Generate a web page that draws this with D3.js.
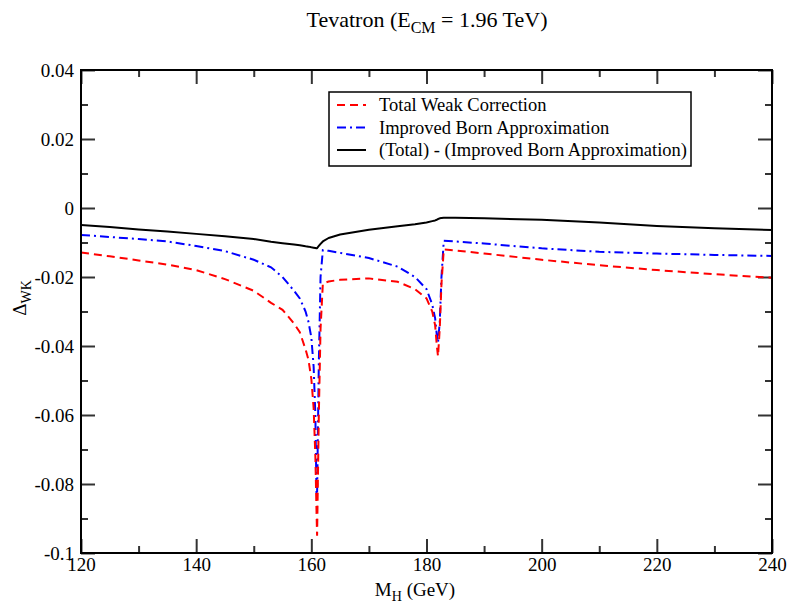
<!DOCTYPE html>
<html>
<head>
<meta charset="utf-8">
<script src="https://cdn.jsdelivr.net/npm/d3@7"></script>
<style>
  body { margin: 0; background: #fff; }
  svg text { font-family: "Liberation Serif", "Times New Roman", serif !important; fill: #000; }
</style>
</head>
<body>
<script>
// Data
var massH = [120, 125, 130, 135, 140, 145, 150, 153, 155, 157, 158, 159, 159.5, 160, 160.4, 160.7, 160.9, 161.0,
  161.3, 161.6, 162, 163, 165, 170, 175, 178, 180, 181, 181.5, 181.8, 182.0, 182.3, 182.6, 183, 185, 190, 200,
  210, 220, 230, 240];
var totalWeak = [-0.0129, -0.0140, -0.0152, -0.0164, -0.0180, -0.0206, -0.0240, -0.0275, -0.0295, -0.0335, -0.0360,
  -0.0410, -0.0440, -0.0495, -0.0580, -0.0720, -0.0880, -0.0950, -0.0600, -0.0350, -0.0219, -0.0213, -0.0208,
  -0.0204, -0.0214, -0.0235, -0.0262, -0.0300, -0.0340, -0.0400, -0.0430, -0.0350, -0.0220, -0.0120, -0.0123,
  -0.0132, -0.0150, -0.0166, -0.0180, -0.0192, -0.0202];
var improvedBorn = [-0.0078, -0.0084, -0.0090, -0.0097, -0.0110, -0.0125, -0.0150, -0.0172, -0.0200, -0.0240, -0.0262,
  -0.0300, -0.0330, -0.0375, -0.0460, -0.0600, -0.0830, -0.0830, -0.0450, -0.0200, -0.0122, -0.0124, -0.0130,
  -0.0145, -0.0170, -0.0200, -0.0235, -0.0280, -0.0320, -0.0370, -0.0390, -0.0330, -0.0200, -0.0095, -0.0097,
  -0.0103, -0.0117, -0.0127, -0.0132, -0.0136, -0.0139];
var difference = [-0.0049, -0.0055, -0.0062, -0.0068, -0.0075, -0.0082, -0.0090, -0.0098, -0.0102, -0.0106, -0.0108,
  -0.0111, -0.0112, -0.0114, -0.0115, -0.0116, -0.0117, -0.0116, -0.0110, -0.0104, -0.0097, -0.0087, -0.0077,
  -0.0063, -0.0053, -0.0047, -0.0042, -0.0038, -0.0036, -0.0034, -0.0032, -0.0030, -0.0029, -0.0028, -0.0028,
  -0.0030, -0.0034, -0.0042, -0.0052, -0.0059, -0.0064];

var seriesNames = ['Total Weak Correction', 'Improved Born Approximation', '(Total) - (Improved Born Approximation)'];
var xTicks = [120, 140, 160, 180, 200, 220, 240];
var xMinorTicks = [130, 150, 170, 190, 210, 230];
var yTicks = [0.04, 0.02, 0, -0.02, -0.04, -0.06, -0.08, -0.1];
var yTickLabels = ['0.04', '0.02', '0', '-0.02', '-0.04', '-0.06', '-0.08', '-0.1'];
var yMinorTicks = [0.03, 0.01, -0.01, -0.03, -0.05, -0.07, -0.09];

// Layout
var WIDTH = 790;
var HEIGHT = 608;
var LEFT = 81, RIGHT = 772, TOP = 70, BOTTOM = 553;
var MAJOR = 14, MINOR = 7;
var SERIF = '"Liberation Serif", "Times New Roman", serif';

var x = d3.scaleLinear().domain([120, 240]).range([LEFT, RIGHT]);
var y = d3.scaleLinear().domain([-0.1, 0.04]).range([BOTTOM, TOP]);

var svg = d3.select('body').append('svg')
  .attr('width', WIDTH)
  .attr('height', HEIGHT)
  .attr('font-family', SERIF);

var clip = svg.append('defs').append('clipPath').attr('id', 'plot-clip');
clip.append('rect')
  .attr('x', LEFT).attr('y', TOP)
  .attr('width', RIGHT - LEFT).attr('height', BOTTOM - TOP);

// axes: ticks point inward on all four sides
function styleAxis(g) {
  g.attr('font-family', SERIF);
  g.select('.domain').remove();
  g.selectAll('.tick line').attr('stroke', '#333').attr('stroke-width', 2);
  g.selectAll('.tick text').style('font-size', '19px');
}

svg.append('g').attr('transform', 'translate(0,' + BOTTOM + ')')
  .call(d3.axisBottom(x).tickValues(xTicks).tickSize(-MAJOR).tickPadding(5).tickFormat(d3.format('d')))
  .call(styleAxis);
svg.append('g').attr('transform', 'translate(0,' + BOTTOM + ')')
  .call(d3.axisBottom(x).tickValues(xMinorTicks).tickSize(-MINOR).tickFormat(''))
  .call(styleAxis);
svg.append('g').attr('transform', 'translate(0,' + TOP + ')')
  .call(d3.axisTop(x).tickValues(xTicks).tickSize(-MAJOR).tickFormat(''))
  .call(styleAxis);
svg.append('g').attr('transform', 'translate(0,' + TOP + ')')
  .call(d3.axisTop(x).tickValues(xMinorTicks).tickSize(-MINOR).tickFormat(''))
  .call(styleAxis);

svg.append('g').attr('transform', 'translate(' + LEFT + ',0)')
  .call(d3.axisLeft(y).tickValues(yTicks).tickSize(-MAJOR).tickPadding(7)
    .tickFormat(function (d, i) { return yTickLabels[i]; }))
  .call(styleAxis);
svg.append('g').attr('transform', 'translate(' + LEFT + ',0)')
  .call(d3.axisLeft(y).tickValues(yMinorTicks).tickSize(-MINOR).tickFormat(''))
  .call(styleAxis);
svg.append('g').attr('transform', 'translate(' + RIGHT + ',0)')
  .call(d3.axisRight(y).tickValues(yTicks).tickSize(-MAJOR).tickFormat(''))
  .call(styleAxis);
svg.append('g').attr('transform', 'translate(' + RIGHT + ',0)')
  .call(d3.axisRight(y).tickValues(yMinorTicks).tickSize(-MINOR).tickFormat(''))
  .call(styleAxis);

// curves
var line = d3.line()
  .x(function (d, i) { return x(massH[i]); })
  .y(function (d) { return y(d); });

var plot = svg.append('g').attr('clip-path', 'url(#plot-clip)');

plot.append('path')
  .attr('d', line(difference))
  .attr('fill', 'none')
  .attr('stroke', '#000')
  .attr('stroke-width', 2)
  .attr('stroke-linejoin', 'round');

plot.append('path')
  .attr('d', line(improvedBorn))
  .attr('fill', 'none')
  .attr('stroke', '#0000ff')
  .attr('stroke-width', 2)
  .attr('stroke-dasharray', '9,4,2,4');

plot.append('path')
  .attr('d', line(totalWeak))
  .attr('fill', 'none')
  .attr('stroke', '#ff0000')
  .attr('stroke-width', 2)
  .attr('stroke-dasharray', '8,5');

// frame
svg.append('rect')
  .attr('x', LEFT).attr('y', TOP)
  .attr('width', RIGHT - LEFT).attr('height', BOTTOM - TOP)
  .attr('fill', 'none')
  .attr('stroke', '#000')
  .attr('stroke-width', 2);

// legend
var legend = svg.append('g');
legend.append('rect')
  .attr('x', 329).attr('y', 92)
  .attr('width', 362).attr('height', 74)
  .attr('fill', '#fff')
  .attr('stroke', '#000')
  .attr('stroke-width', 1.5);

var legendStyles = [
  { stroke: '#ff0000', dash: '8,5' },
  { stroke: '#0000ff', dash: '9,4,2,4' },
  { stroke: '#000', dash: null }
];
seriesNames.forEach(function (name, i) {
  var cy = 105 + i * 22.5;
  legend.append('line')
    .attr('x1', 337).attr('x2', 366)
    .attr('y1', cy).attr('y2', cy)
    .attr('stroke', legendStyles[i].stroke)
    .attr('stroke-width', 2)
    .attr('stroke-dasharray', legendStyles[i].dash);
  legend.append('text')
    .attr('x', 379).attr('y', cy + 6)
    .style('font-size', '18.5px')
    .text(name);
});

// titles
var title = svg.append('text')
  .attr('x', 427).attr('y', 27)
  .attr('text-anchor', 'middle')
  .style('font-size', '22px');
title.append('tspan').text('Tevatron (E');
title.append('tspan').attr('dy', 6).style('font-size', '16px').text('CM');
title.append('tspan').attr('dy', -6).text(' = 1.96 TeV)');

var xLabel = svg.append('text')
  .attr('x', 415).attr('y', 596)
  .attr('text-anchor', 'middle')
  .style('font-size', '19px');
xLabel.append('tspan').text('M');
xLabel.append('tspan').attr('dy', 5).style('font-size', '14px').text('H');
xLabel.append('tspan').attr('dy', -5).text(' (GeV)');

var yLabel = svg.append('text')
  .attr('transform', 'translate(26,298) rotate(-90)')
  .attr('text-anchor', 'middle')
  .style('font-size', '19px');
yLabel.append('tspan').text('\u0394');
yLabel.append('tspan').attr('dy', 5).style('font-size', '14px').text('WK');
</script>
</body>
</html>
